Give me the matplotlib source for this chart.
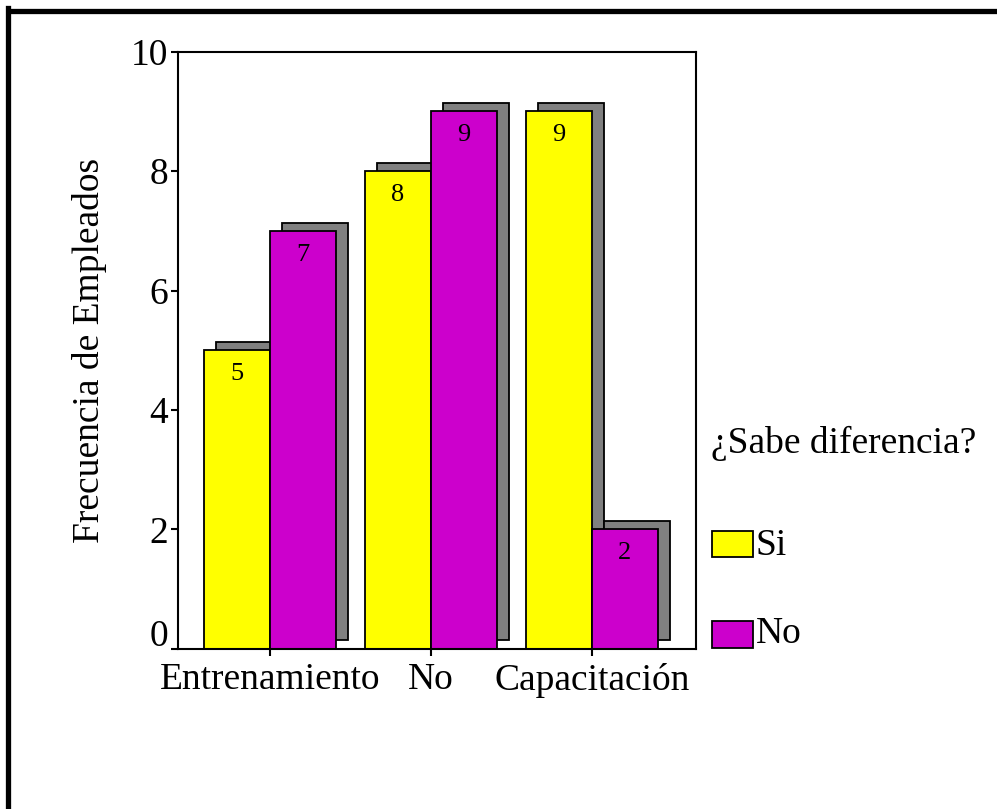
import numpy as np
import matplotlib.pyplot as plt
from matplotlib.patches import Rectangle
from matplotlib.transforms import ScaledTranslation

plt.rcParams['font.family'] = ['Liberation Serif', 'DejaVu Serif']

# data
categories = ['Entrenamiento', 'No', 'Capacitación']
si_values = [5, 8, 9]
no_values = [7, 9, 2]
series_names = ['Si', 'No']
legend_title = '¿Sabe diferencia?'

yellow = '#FFFF00'
magenta = '#CC00CC'
shadow = '#808080'

fig = plt.figure(figsize=(9.97, 8.09), dpi=100)
ax = fig.add_axes([0.1785, 0.198, 0.5195, 0.738])

x = np.arange(len(categories))
w = 0.41
dx, dy = 0.075, 0.14

# shadows first
ax.bar(x - w / 2 + dx, si_values, w, bottom=dy, color=shadow, edgecolor='black', linewidth=1.3, zorder=1)
ax.bar(x + w / 2 + dx, no_values, w, bottom=dy, color=shadow, edgecolor='black', linewidth=1.3, zorder=1)
# main bars
ax.bar(x - w / 2, si_values, w, color=yellow, edgecolor='black', linewidth=1.3, zorder=2)
ax.bar(x + w / 2, no_values, w, color=magenta, edgecolor='black', linewidth=1.3, zorder=2)

for xi, v in zip(x - w / 2, si_values):
    ax.text(xi, v - 0.4, str(v), ha='center', va='center', fontsize=19, zorder=3)
for xi, v in zip(x + w / 2, no_values):
    ax.text(xi, v - 0.4, str(v), ha='center', va='center', fontsize=19, zorder=3)

ax.set_xlim(-0.571, 2.646)
ax.set_ylim(0, 10)
ax.set_yticks([0, 2, 4, 6, 8, 10])
ax.set_xticks(x)
ax.set_xticklabels(categories)
ax.tick_params(axis='both', labelsize=27, length=5, width=1.5, direction='out')
ax.tick_params(axis='y', pad=2)
ax.tick_params(axis='x', pad=5)
for s in ax.spines.values():
    s.set_linewidth(1.5)
ax.set_ylabel('Frecuencia de Empleados', fontsize=27, labelpad=17)

# the 0 label sits a bit above its tick in the original
lab0 = ax.get_yticklabels()[0]
lab0.set_transform(lab0.get_transform() + ScaledTranslation(0, 0.16, fig.dpi_scale_trans))

# legend
fig.text(0.713, 0.452, legend_title, fontsize=27, va='center', ha='left')
fig.add_artist(Rectangle((0.714, 1 - 557 / 809), 41 / 997, 26 / 809, transform=fig.transFigure,
                         facecolor=yellow, edgecolor='black', linewidth=1.3))
fig.text(0.758, 1 - 546 / 809, series_names[0], fontsize=27, va='center', ha='left')
fig.add_artist(Rectangle((0.714, 1 - 648 / 809), 41 / 997, 27 / 809, transform=fig.transFigure,
                         facecolor=magenta, edgecolor='black', linewidth=1.3))
fig.text(0.758, 1 - 634 / 809, series_names[1], fontsize=27, va='center', ha='left')

# outer frame (top and left only)
fig.add_artist(plt.Line2D([9 / 997, 1], [1 - 10.5 / 809, 1 - 10.5 / 809], transform=fig.transFigure,
                          color='black', linewidth=3.8))
fig.add_artist(plt.Line2D([7.5 / 997, 7.5 / 997], [0, 1 - 8 / 809], transform=fig.transFigure,
                          color='black', linewidth=3.8))

fig.savefig('out.png', dpi=100)
